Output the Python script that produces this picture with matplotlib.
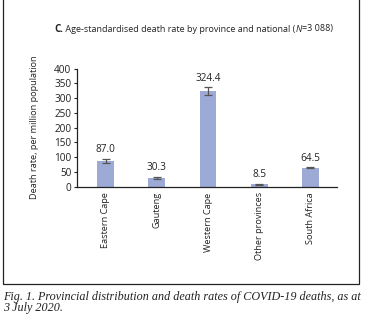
import matplotlib
matplotlib.use("Agg")
import matplotlib.pyplot as plt
from matplotlib.patches import Rectangle
import numpy as np

categories = ["Eastern Cape", "Gauteng", "Western Cape", "Other provinces", "South Africa"]
rates = [87.0, 30.3, 324.4, 8.5, 64.5]
errors = [7.0, 4.0, 13.0, 1.5, 2.0]
value_labels = ["87.0", "30.3", "324.4", "8.5", "64.5"]
yticks = [0, 50, 100, 150, 200, 250, 300, 350, 400]

plt.rcParams['font.family'] = ['Open Sans', 'DejaVu Sans']

W, H = 368, 333
fig = plt.figure(figsize=(W / 100, H / 100), dpi=100)
fig.patch.set_facecolor('white')

ax = fig.add_axes([77 / W, 1 - 186.7 / H, 260 / W, 118 / H])
x = np.arange(len(categories))
ax.bar(x, rates, width=0.33, color='#9daad6', zorder=2)
ax.errorbar(x, rates, yerr=errors, fmt='none', ecolor='#555555', elinewidth=0.9,
            capsize=2.6, capthick=0.9, zorder=3)
for xi, v, e, lab in zip(x, rates, errors, value_labels):
    ax.annotate(lab, (xi, v + e), xytext=(0, 2.5), textcoords='offset points',
                ha='center', va='bottom', fontsize=7.2, color='#222222')

ax.set_xlim(-0.56, 4.52)
ax.set_ylim(0, 400)
ax.set_yticks(yticks)
ax.set_xticks(x)
ax.set_xticklabels(categories, rotation=90, fontsize=6.6, color='#222222')
ax.tick_params(axis='y', labelsize=7.2, length=2.5, width=0.8, pad=1.5, colors='#222222')
ax.tick_params(axis='x', length=0, pad=4)
for s in ['top', 'right']:
    ax.spines[s].set_visible(False)
for s in ['left', 'bottom']:
    ax.spines[s].set_linewidth(0.9)
    ax.spines[s].set_color('#222222')
ax.set_facecolor('white')

fig.text(35 / W, 1 - 127 / H, "Death rate, per million population", rotation=90,
         ha='center', va='center', fontsize=6.6, color='#222222')

# title built from pieces: bold "C.", regular text, italic "N"
title_parts = [("C.", dict(weight='bold', fontsize=7.0), 0),
               (" Age-standardised death rate by province and national (", {}, 0),
               ("N", dict(style='italic'), 0.8),
               ("=3 088)", {}, 0)]
renderer = fig.canvas.get_renderer()
xpos = 54
ty = 1 - 29 / H
for txt, kw, gap in title_parts:
    opts = dict(fontsize=6.5)
    opts.update(kw)
    t = fig.text(xpos / W, ty, txt, ha='left', va='center',
                 color='#222222', **opts)
    bb = t.get_window_extent(renderer=renderer)
    xpos = bb.x1 + gap

# frame around panel
fig.add_artist(Rectangle((3 / W, 1 - 284 / H), 356 / W, 284 / H + 0.05,
                         transform=fig.transFigure, fill=False, edgecolor='#222222',
                         linewidth=0.9, clip_on=False))

fig.text(3 / W, 1 - 297 / H,
         "Fig. 1. Provincial distribution and death rates of COVID-19 deaths, as at",
         ha='left', va='center', fontsize=8.7, family='Liberation Serif', style='italic',
         color='#222222')
fig.text(3 / W, 1 - 308.5 / H, "3 July 2020.",
         ha='left', va='center', fontsize=8.7, family='Liberation Serif', style='italic',
         color='#222222')

fig.savefig("out.png", dpi=100, facecolor='white')
